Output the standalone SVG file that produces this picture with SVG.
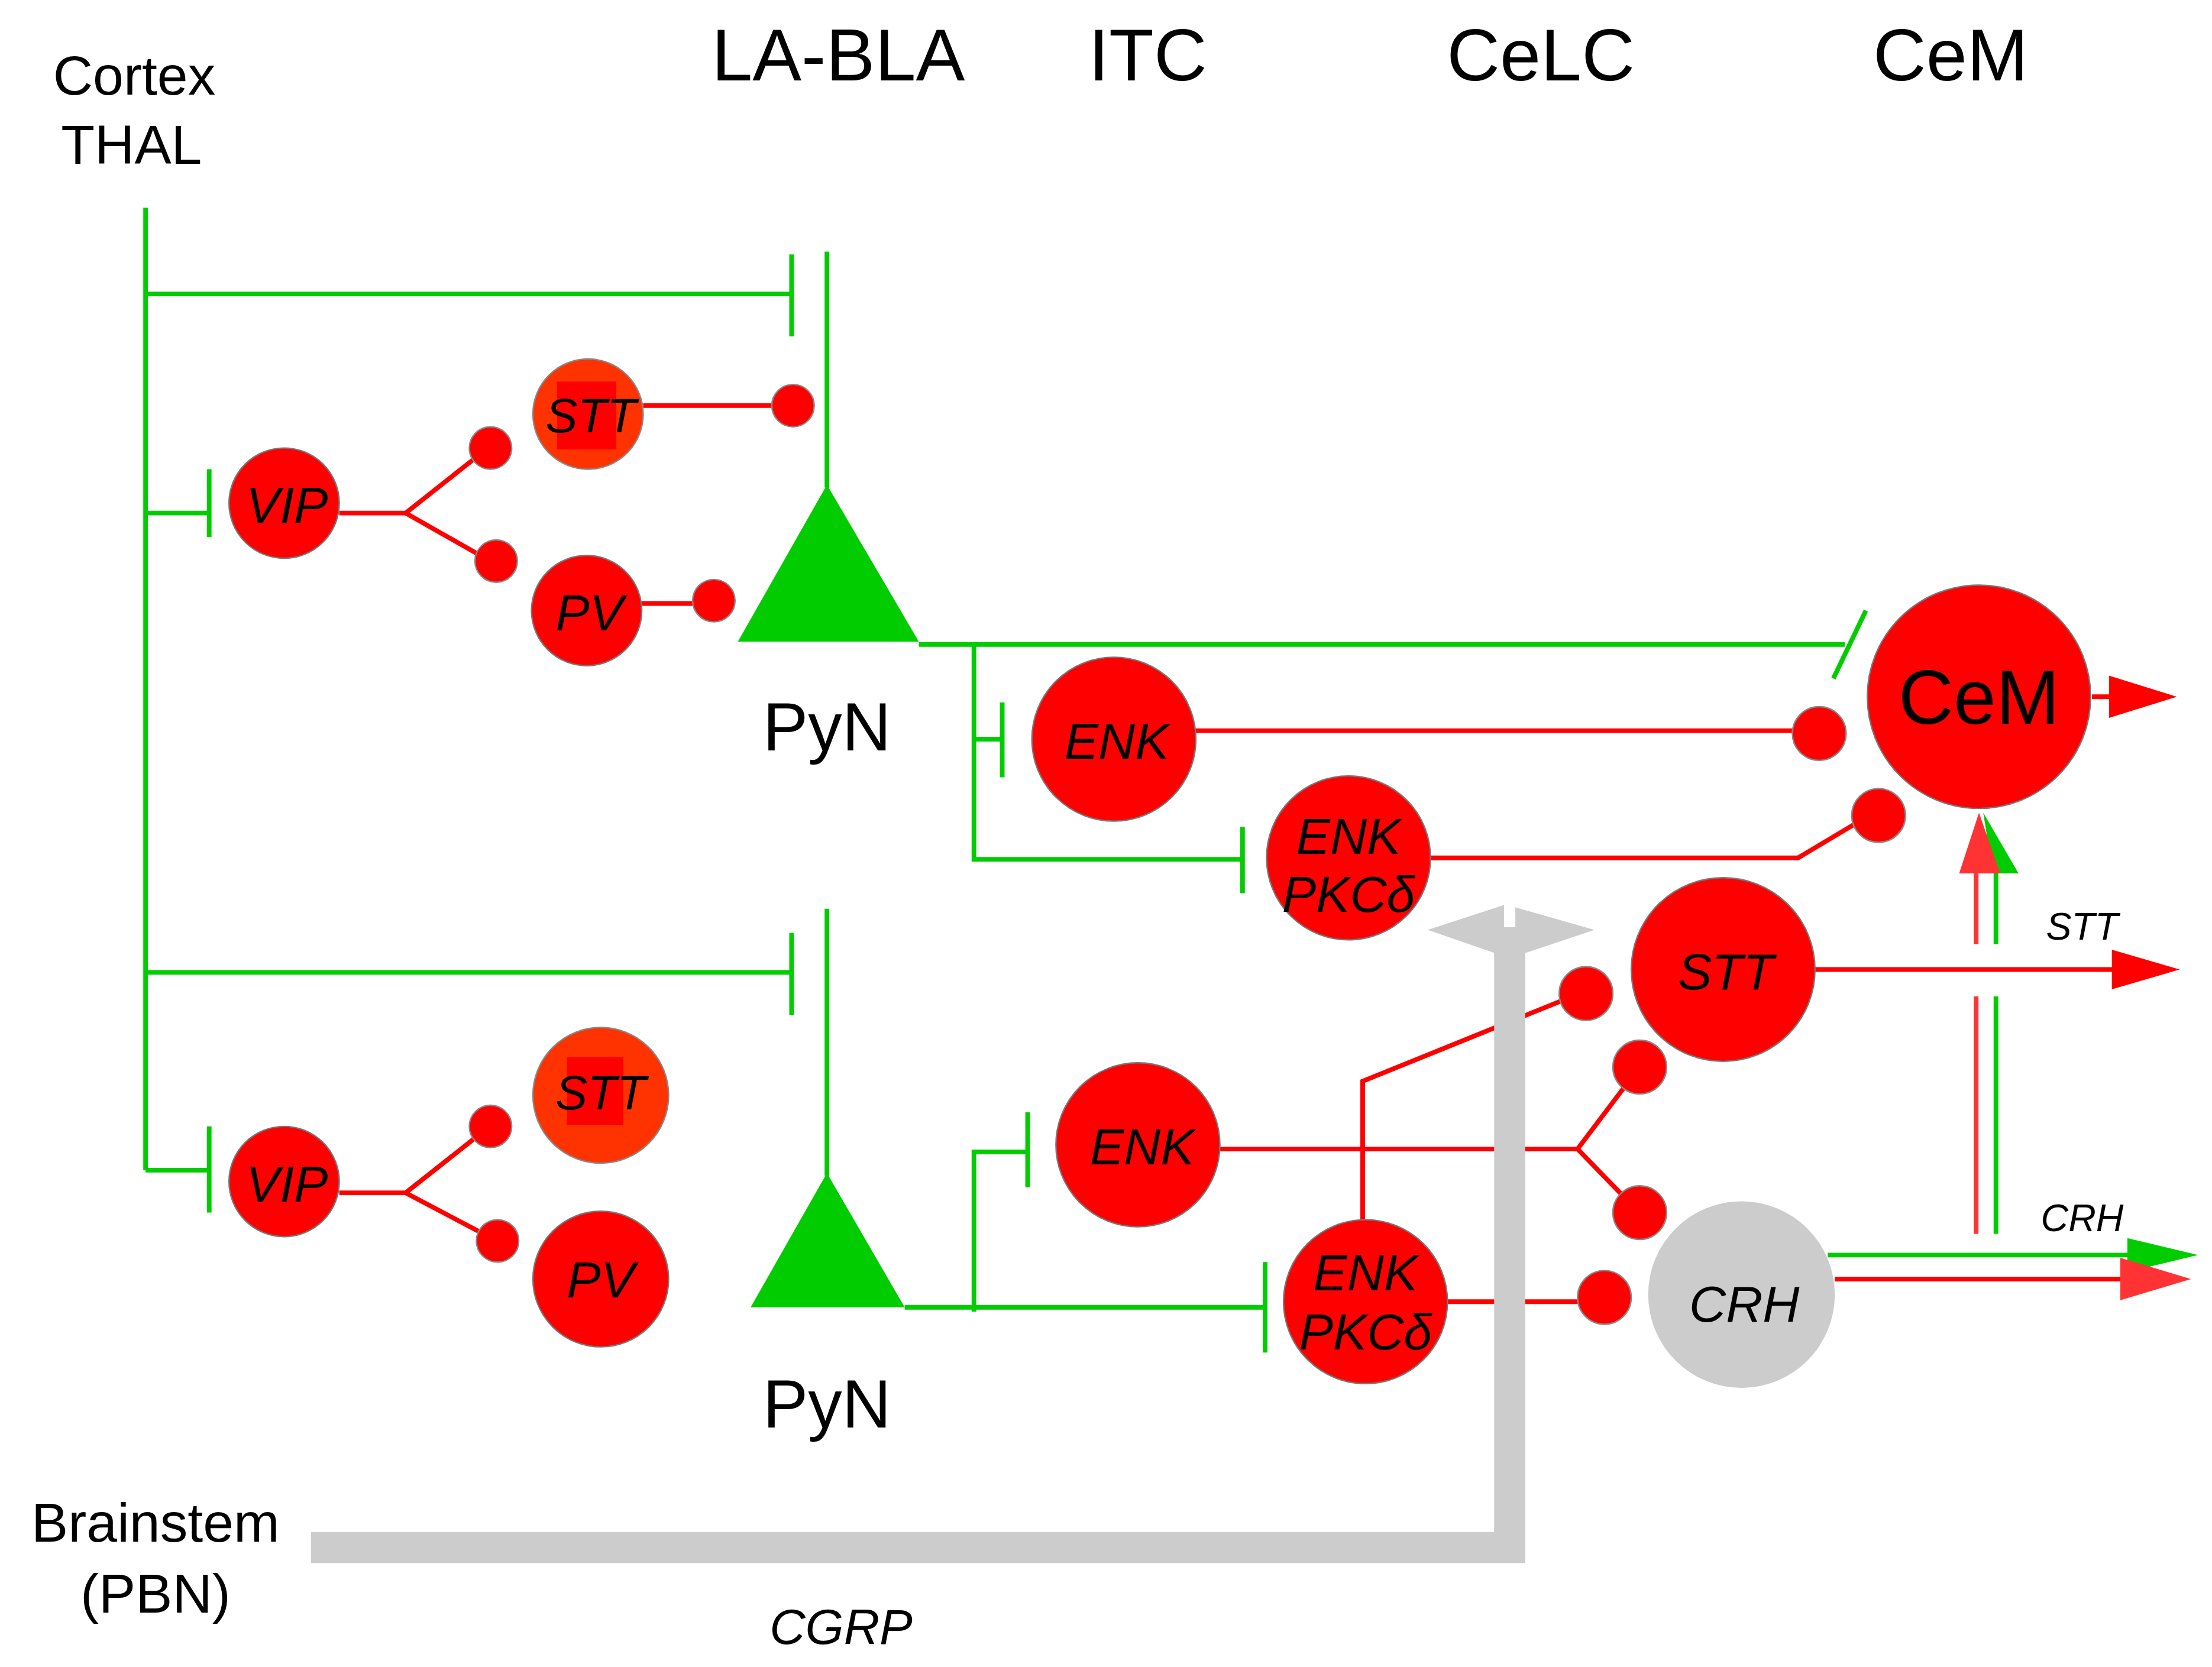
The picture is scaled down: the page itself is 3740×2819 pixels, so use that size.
<svg xmlns="http://www.w3.org/2000/svg" width="3740" height="2819" viewBox="0 0 3740 2819">
<style>
.g{stroke:#00cc00;stroke-width:3.3;fill:none}
.r{stroke:#ff0000;stroke-width:3.3;fill:none}
.cell{fill:#ff0000;stroke:#777;stroke-width:1}
.dot{fill:#ff0000;stroke:#888;stroke-width:1}
.t{font-family:"Liberation Sans",Arial,sans-serif;fill:#000;text-anchor:middle}
.i{font-style:italic}
</style>
<rect width="3740" height="2819" fill="#fff"/>
<g transform="scale(2.39)">
<g id="labels">
<text class="t" x="95" y="67" font-size="39">Cortex</text>
<text class="t" x="93" y="116" font-size="39">THAL</text>
<text class="t" x="593" y="57" font-size="52">LA-BLA</text>
<text class="t" x="812" y="57" font-size="52">ITC</text>
<text class="t" x="1090" y="57" font-size="52">CeLC</text>
<text class="t" x="1380" y="57" font-size="52">CeM</text>
<text class="t" x="110" y="1091" font-size="39">Brainstem</text>
<text class="t" x="110" y="1141" font-size="39">(PBN)</text>
<text class="t i" x="595" y="1163" font-size="35">CGRP</text>
<text class="t i" x="1473" y="665" font-size="27">STT</text>
<text class="t i" x="1473" y="871" font-size="27">CRH</text>
</g>
<g id="connectors">
<polyline class="g" points="103,147 103,828"/>
<line class="g" x1="103" y1="208" x2="560" y2="208"/><line class="g" x1="560" y1="180" x2="560" y2="238"/>
<line class="g" x1="585" y1="178" x2="585" y2="345"/>
<line class="g" x1="103" y1="363" x2="148" y2="363"/><line class="g" x1="148" y1="332" x2="148" y2="380"/>
<line class="r" x1="455" y1="287" x2="548" y2="287"/>
<polyline class="r" points="240,363 287,363 335,325"/><line class="r" x1="287" y1="363" x2="338" y2="392"/>
<line class="r" x1="454" y1="427" x2="492" y2="427"/>
<line class="g" x1="650" y1="456" x2="1305" y2="456"/><line class="g" x1="1297" y1="480" x2="1320" y2="432"/>
<polyline class="g" points="689,456 689,608 879,608"/><line class="g" x1="879" y1="585" x2="879" y2="632"/>
<line class="g" x1="689" y1="523" x2="709" y2="523"/><line class="g" x1="709" y1="497" x2="709" y2="550"/>
<line class="r" x1="846" y1="517" x2="1270" y2="517"/>
<polyline class="r" points="1012,607 1272,607 1314,582"/>
<line class="r" x1="1480" y1="493" x2="1500" y2="493"/><polygon points="1492,478 1540,493 1492,508" fill="#ff0000"/>
<line class="g" x1="103" y1="688" x2="560" y2="688"/><line class="g" x1="560" y1="660" x2="560" y2="718"/>
<line class="g" x1="585" y1="643" x2="585" y2="832"/>
<line class="g" x1="103" y1="828" x2="148" y2="828"/><line class="g" x1="148" y1="797" x2="148" y2="858"/>
<polyline class="r" points="240,844 287,844 335,806"/><line class="r" x1="287" y1="844" x2="340" y2="872"/>
<line class="g" x1="640" y1="925" x2="895" y2="925"/><line class="g" x1="895" y1="893" x2="895" y2="957"/>
<polyline class="g" points="689,928 689,815 727,815"/><line class="g" x1="727" y1="787" x2="727" y2="840"/>
<polyline class="r" points="863,813 1116,813 1150,768"/><line class="r" x1="1116" y1="813" x2="1150" y2="848"/>
<polyline class="r" points="964,863 964,765 1105,708"/>
<line class="r" x1="1024" y1="921" x2="1118" y2="921"/>
<line class="r" x1="1284" y1="686" x2="1500" y2="686"/><polygon points="1494,672 1542,686 1494,700" fill="#ff0000"/>
<line class="g" x1="1293" y1="888" x2="1510" y2="888"/><polygon points="1505,876 1555,888 1505,900" fill="#00cc00"/>
<line class="r" x1="1298" y1="905" x2="1505" y2="905"/><polygon points="1500,890 1550,905 1500,920" fill="#ff3333"/>
<polyline points="1398,873 1398,705" stroke="#ff3333" stroke-width="3.3"/><polyline points="1398,668 1398,615" stroke="#ff3333" stroke-width="3.3"/>
<polyline points="1412,873 1412,705" stroke="#00cc00" stroke-width="3.3"/><polyline points="1412,668 1412,615" stroke="#00cc00" stroke-width="3.3"/>
<polygon points="1403,575 1428,618 1410,618" fill="#00cc00"/>
<polygon points="1400,575 1386,618 1415,618" fill="#ff3333"/>
<polyline points="220,1095 1068,1095 1068,665" stroke="#cccccc" stroke-width="22" fill="none"/>
<polygon points="1010,658 1065,640 1128,658 1068,678" fill="#cccccc"/>
<rect x="1064" y="638" width="8" height="18" fill="#fff"/>
</g>
<g id="n_stt1"><circle cx="416" cy="293" r="39" fill="#ff3300" stroke="#888"/><rect x="394" y="270" width="42" height="48" fill="#ff0000"/><text class="t i" x="418" y="306" font-size="34">STT</text></g>
<circle class="dot" cx="561" cy="287" r="15"/>
<g id="n_vip1"><circle class="cell" cx="201" cy="356" r="39"/><text class="t i" x="203" y="370" font-size="36">VIP</text></g>
<circle class="dot" cx="347" cy="317" r="15"/><circle class="dot" cx="351" cy="397" r="15"/>
<g id="n_pv1"><circle class="cell" cx="415" cy="432" r="39"/><text class="t i" x="417" y="446" font-size="36">PV</text></g>
<circle class="dot" cx="505" cy="425" r="15"/>
<g id="n_pyn1"><polygon points="585,343 522,454 650,454" fill="#00cc00"/><text class="t" x="585" y="531" font-size="48">PyN</text></g>
<g id="n_enk1"><circle class="cell" cx="788" cy="523" r="58"/><text class="t i" x="790" y="537" font-size="36">ENK</text></g>
<circle class="dot" cx="1287" cy="519" r="19"/>
<g id="n_enkpkc1"><circle class="cell" cx="954" cy="607" r="58"/><text class="t i" x="954" y="604" font-size="36">ENK</text><text class="t i" x="954" y="645" font-size="36">PKCδ</text></g>
<circle class="dot" cx="1329" cy="577" r="19"/>
<g id="n_cem"><circle class="cell" cx="1400" cy="493" r="79"/><text class="t" x="1400" y="512" font-size="54">CeM</text></g>
<g id="n_stt2"><circle cx="425" cy="775" r="48" fill="#ff3300" stroke="#888"/><rect x="401" y="748" width="40" height="48" fill="#ff0000"/><text class="t i" x="425" y="785" font-size="34">STT</text></g>
<g id="n_vip2"><circle class="cell" cx="201" cy="836" r="39"/><text class="t i" x="203" y="850" font-size="36">VIP</text></g>
<circle class="dot" cx="347" cy="797" r="15"/><circle class="dot" cx="352" cy="878" r="15"/>
<g id="n_pv2"><circle class="cell" cx="425" cy="905" r="48"/><text class="t i" x="425" y="918" font-size="36">PV</text></g>
<g id="n_pyn2"><polygon points="585,830 531,925 640,925" fill="#00cc00"/><text class="t" x="585" y="1010" font-size="48">PyN</text></g>
<g id="n_enk2"><circle class="cell" cx="805" cy="810" r="58"/><text class="t i" x="808" y="824" font-size="36">ENK</text></g>
<circle class="dot" cx="1160" cy="755" r="19"/><circle class="dot" cx="1160" cy="858" r="19"/><circle class="dot" cx="1122" cy="703" r="19"/>
<g id="n_enkpkc2"><circle class="cell" cx="966" cy="921" r="58"/><text class="t i" x="966" y="913" font-size="36">ENK</text><text class="t i" x="966" y="955" font-size="36">PKCδ</text></g>
<circle class="dot" cx="1135" cy="918" r="19"/>
<g id="n_stt3"><circle class="cell" cx="1219" cy="686" r="65"/><text class="t i" x="1221" y="700" font-size="36">STT</text></g>
<g id="n_crh"><circle cx="1232" cy="916" r="66" fill="#cccccc"/><text class="t i" x="1234" y="935" font-size="36">CRH</text></g>
</g>
</svg>
